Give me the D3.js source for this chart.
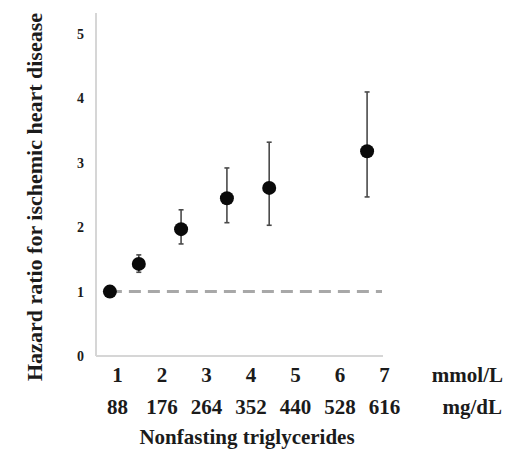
<!DOCTYPE html>
<html>
<head>
<meta charset="utf-8">
<script src="https://cdn.jsdelivr.net/npm/d3@7"></script>
<style>
  html, body { margin: 0; padding: 0; background: #fff; }
  svg { display: block; }
  text { font-family: "Liberation Serif", "DejaVu Serif", serif; font-weight: bold; fill: #1b1b1b; }
</style>
</head>
<body>
<svg id="chart" width="505" height="471"></svg>
<script>
// Triglyceride groups: position on the mmol/L axis and hazard ratio with 95% CI
const trigMmol = [0.84, 1.49, 2.44, 3.47, 4.42, 6.62];
const hazard   = [1.00, 1.43, 1.97, 2.45, 2.61, 3.18];
const ciLow    = [1.00, 1.30, 1.74, 2.07, 2.03, 2.47];
const ciHigh   = [1.00, 1.57, 2.27, 2.92, 3.32, 4.10];

const mmolTicks = [1, 2, 3, 4, 5, 6, 7];
const mgdlTicks = ["88", "176", "264", "352", "440", "528", "616"];
const yTicks = [0, 1, 2, 3, 4, 5];
const referenceHR = 1;

const svg = d3.select("#chart");

const x = d3.scaleLinear().domain([1, 7]).range([117, 384]);
const y = d3.scaleLinear().domain([0, 5]).range([356, 34]);

const plotLeft = 96, plotRight = 383, plotTop = 13;
const labelFont = "21px";

function styleText(sel, size) {
  sel.selectAll("text")
    .style("font-family", '"Liberation Serif", serif')
    .style("font-weight", "bold")
    .style("font-size", size)
    .attr("fill", "#1b1b1b");
}

// axis lines (light grey)
svg.append("line")
  .attr("x1", plotLeft).attr("x2", plotLeft)
  .attr("y1", plotTop).attr("y2", y(0))
  .attr("stroke", "#d6d6d6").attr("stroke-width", 2);
svg.append("line")
  .attr("x1", plotLeft).attr("x2", plotRight)
  .attr("y1", y(0)).attr("y2", y(0))
  .attr("stroke", "#d6d6d6").attr("stroke-width", 2);

// y axis tick labels
const yAxis = d3.axisLeft(y).tickValues(yTicks).tickSize(0).tickPadding(0).tickFormat(d3.format("d"));
const gy = svg.append("g").attr("transform", `translate(${plotLeft - 12},0)`).call(yAxis);
gy.select(".domain").remove();
styleText(gy, "14px");

// x axis: mmol/L row
const xAxis = d3.axisBottom(x).tickValues(mmolTicks).tickSize(0).tickPadding(0).tickFormat(d3.format("d"));
const gx = svg.append("g").attr("transform", `translate(0,367)`).call(xAxis);
gx.select(".domain").remove();
styleText(gx, labelFont);

// x axis: mg/dL row
const xAxis2 = d3.axisBottom(x).tickValues(mmolTicks).tickSize(0).tickPadding(0)
  .tickFormat((d, i) => mgdlTicks[i]);
const gx2 = svg.append("g").attr("transform", `translate(0,399)`).call(xAxis2);
gx2.select(".domain").remove();
styleText(gx2, labelFont);

// unit labels
svg.append("text").attr("x", 503).attr("y", 382).attr("text-anchor", "end")
  .style("font-size", labelFont).text("mmol/L");
svg.append("text").attr("x", 502).attr("y", 414).attr("text-anchor", "end")
  .style("font-size", labelFont).text("mg/dL");

// axis titles
svg.append("text").attr("x", 247).attr("y", 444).attr("text-anchor", "middle")
  .style("font-size", labelFont).text("Nonfasting triglycerides");
svg.append("text")
  .attr("transform", `translate(42,197) rotate(-90)`)
  .attr("text-anchor", "middle")
  .style("font-size", "22px")
  .text("Hazard ratio for ischemic heart disease");

// reference line at HR = 1
svg.append("line")
  .attr("x1", x(trigMmol[0])).attr("x2", x(7) - 2)
  .attr("y1", y(referenceHR)).attr("y2", y(referenceHR))
  .attr("stroke", "#a8a8a8").attr("stroke-width", 3)
  .attr("stroke-dasharray", "12,7");

// confidence intervals
const data = trigMmol.map((m, i) => ({ m, hr: hazard[i], lo: ciLow[i], hi: ciHigh[i] }));
const ci = svg.append("g").selectAll("g").data(data.filter(d => d.hi > d.lo)).join("g");
ci.append("line")
  .attr("x1", d => x(d.m)).attr("x2", d => x(d.m))
  .attr("y1", d => y(d.hi)).attr("y2", d => y(d.lo))
  .attr("stroke", "#4a4a4a").attr("stroke-width", 1.6);
ci.append("line")
  .attr("x1", d => x(d.m) - 2.5).attr("x2", d => x(d.m) + 2.5)
  .attr("y1", d => y(d.hi)).attr("y2", d => y(d.hi))
  .attr("stroke", "#4a4a4a").attr("stroke-width", 1.6);
ci.append("line")
  .attr("x1", d => x(d.m) - 2.5).attr("x2", d => x(d.m) + 2.5)
  .attr("y1", d => y(d.lo)).attr("y2", d => y(d.lo))
  .attr("stroke", "#4a4a4a").attr("stroke-width", 1.6);

// point estimates
svg.append("g").selectAll("circle").data(data).join("circle")
  .attr("cx", d => x(d.m)).attr("cy", d => y(d.hr))
  .attr("r", 7).attr("fill", "#0a0a0a");
</script>
</body>
</html>
